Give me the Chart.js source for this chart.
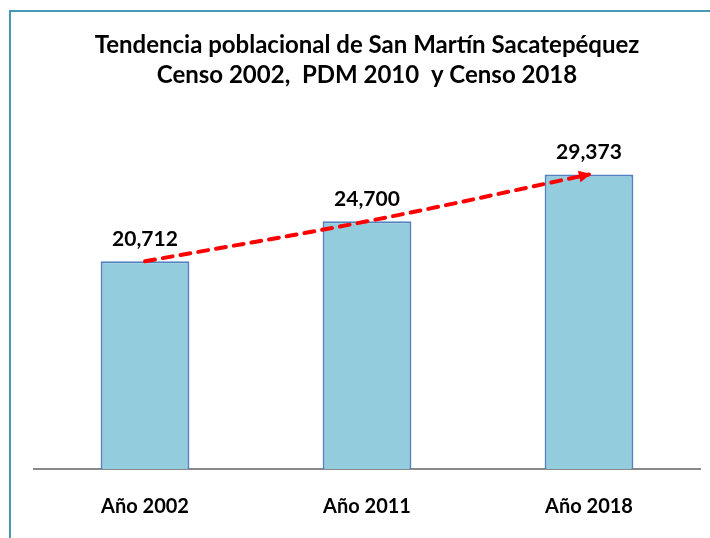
<!DOCTYPE html>
<html>
<head>
<meta charset="utf-8">
<script src="https://cdn.jsdelivr.net/npm/chart.js@4.4.0/dist/chart.umd.min.js"></script>
<style>
    body { margin: 0; background: #fff; overflow: hidden; }
    #frame {
        position: absolute; left: 9px; top: 10px; width: 720px; height: 560px;
        border-left: 2px solid #4698b4; border-top: 2px solid #4698b4;
    }
    #wrap { position: absolute; left: 0; top: 0; width: 710px; height: 538px; }
</style>
</head>
<body>
<div id="frame"></div>
<div id="wrap"><canvas id="popChart"></canvas></div>
<script>
    const years = ['Año 2002', 'Año 2011', 'Año 2018'];
    const population = [20712, 24700, 29373];
    const titleLines = ['Tendencia poblacional de San Martín Sacatepéquez', 'Censo 2002,  PDM 2010  y Censo 2018'];

    const FONT = 'Lato, "Open Sans", sans-serif';

    // Value labels above bars + arrow head at end of trend line
    const extrasPlugin = {
        id: 'extras',
        afterDatasetsDraw(chart) {
            const ctx = chart.ctx;
            const barMeta = chart.getDatasetMeta(0);
            ctx.save();
            ctx.fillStyle = '#000';
            ctx.font = 'bold 21px ' + FONT;
            ctx.textAlign = 'center';
            ctx.textBaseline = 'middle';
            barMeta.data.forEach(function (bar, i) {
                ctx.fillText(population[i].toLocaleString('en-US'), bar.x, bar.y - 22);
            });

            const lineMeta = chart.getDatasetMeta(1);
            const last = lineMeta.data[lineMeta.data.length - 1];
            const fromX = last.cp1x !== undefined ? last.cp1x : lineMeta.data[1].x;
            const fromY = last.cp1y !== undefined ? last.cp1y : lineMeta.data[1].y;
            const angle = Math.atan2(last.y - fromY, last.x - fromX);
            ctx.translate(last.x, last.y);
            ctx.rotate(angle);
            ctx.fillStyle = '#ff0000';
            ctx.beginPath();
            ctx.moveTo(2, 0);
            ctx.lineTo(-10, -6);
            ctx.lineTo(-10, 6);
            ctx.closePath();
            ctx.fill();
            ctx.restore();
        }
    };

    new Chart(document.getElementById('popChart'), {
        data: {
            labels: years,
            datasets: [
                {
                    type: 'bar',
                    data: population,
                    backgroundColor: '#93cddd',
                    borderColor: '#5283c0',
                    borderWidth: 2,
                    borderSkipped: 'bottom',
                    barPercentage: 0.4,
                    categoryPercentage: 1,
                    order: 2
                },
                {
                    type: 'line',
                    data: population,
                    borderColor: '#ff0000',
                    borderWidth: 4,
                    borderDash: [10, 8],
                    borderCapStyle: 'round',
                    tension: 0.35,
                    pointRadius: 0,
                    fill: false,
                    order: 1
                }
            ]
        },
        options: {
            responsive: true,
            maintainAspectRatio: false,
            animation: false,
            layout: { padding: { left: 34, right: 10, top: 0, bottom: 0 } },
            plugins: {
                legend: { display: false },
                tooltip: { enabled: false },
                title: {
                    display: true,
                    text: titleLines,
                    color: '#000',
                    font: { family: FONT, size: 24, weight: 'bold', lineHeight: 1.25 },
                    padding: { top: 30, bottom: 28 }
                }
            },
            scales: {
                x: {
                    grid: { display: false, drawTicks: false },
                    border: { display: true, color: '#898989', width: 2 },
                    ticks: {
                        color: '#000',
                        padding: 26,
                        font: { family: FONT, size: 20, weight: 'bold' }
                    },
                    afterFit: function (scale) { scale.height = 69; }
                },
                y: {
                    display: false,
                    min: 0,
                    max: 35000
                }
            }
        },
        plugins: [extrasPlugin]
    });
</script>
</body>
</html>
